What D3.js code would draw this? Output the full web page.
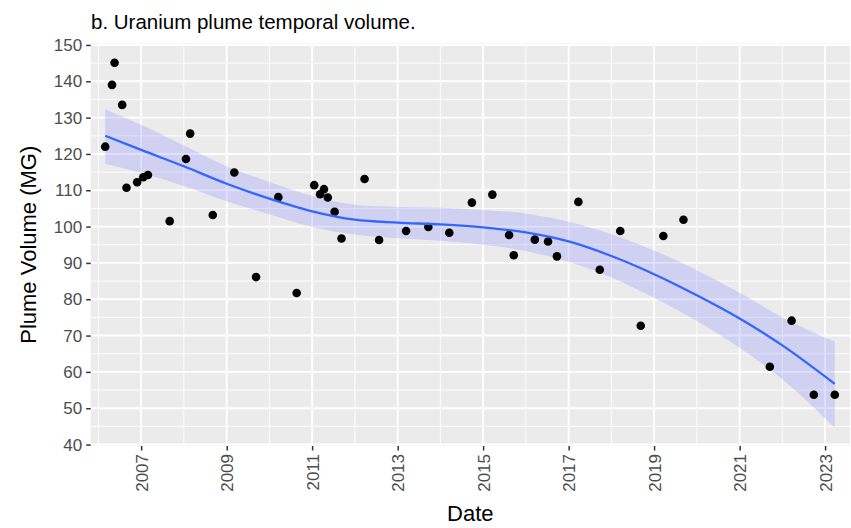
<!DOCTYPE html>
<html>
<head>
<meta charset="utf-8">
<script src="https://cdn.jsdelivr.net/npm/d3@7"></script>
<style>
  body { margin: 0; background: #fff; }
  text { font-family: "Liberation Sans", Arial, sans-serif; }
</style>
</head>
<body>
<svg id="chart" width="851" height="528"></svg>
<script>
// sampling dates and plume volumes (MG)
const sampleDates = [
  "2006-02-28", "2006-04-27", "2006-05-19", "2006-07-23", "2006-08-29", "2006-11-28",
  "2007-01-19", "2007-02-28", "2007-09-02", "2008-01-19", "2008-02-24", "2008-09-04",
  "2009-03-07", "2009-09-09", "2010-03-18", "2010-08-22", "2011-01-19", "2011-03-10",
  "2011-04-12", "2011-05-15", "2011-07-12", "2011-09-09", "2012-03-24", "2012-07-26",
  "2013-03-14", "2013-09-20", "2014-03-18", "2014-09-27", "2015-03-21", "2015-08-11",
  "2015-09-20", "2016-03-18", "2016-07-09", "2016-09-23", "2017-03-25", "2017-09-24",
  "2018-03-18", "2018-09-09", "2019-03-21", "2019-09-09", "2021-09-16", "2022-03-21",
  "2022-09-27", "2023-03-25"
];
const plumeVolume = [
  122.0, 139.0, 145.1, 133.5, 110.7, 112.2,
  113.6, 114.2, 101.5, 118.6, 125.6, 103.2,
  114.9, 86.1, 108.1, 81.7, 111.4, 108.9,
  110.3, 108.0, 104.1, 96.7, 113.1, 96.3,
  98.8, 99.9, 98.3, 106.6, 108.8, 97.7,
  92.1, 96.4, 95.9, 91.8, 106.8, 88.1,
  98.8, 72.7, 97.4, 101.9, 61.4, 74.1,
  53.7, 53.7
];

// loess smooth and its confidence band at knots
const smoothDates = [
  "2006-02-28", "2007-01-01", "2008-01-01", "2009-01-01", "2010-01-01", "2011-01-01",
  "2012-01-01", "2013-01-01", "2014-01-01", "2015-01-01", "2016-01-01", "2017-01-01",
  "2018-01-01", "2019-01-01", "2020-01-01", "2021-01-01", "2022-01-01", "2023-03-25"
];
const smoothFit   = [125.0, 121.1, 116.6, 111.8, 107.7, 104.2, 101.9, 101.1, 100.6, 99.8, 98.4, 95.9, 91.9, 86.9, 81.1, 74.7, 67.3, 56.7];
const smoothUpper = [132.3, 128.0, 122.3, 116.6, 112.3, 108.5, 106.0, 105.4, 105.2, 104.6, 103.6, 101.3, 97.9, 93.4, 88.0, 81.8, 75.0, 68.4];
const smoothLower = [117.3, 114.8, 111.2, 107.0, 103.4, 99.9, 97.8, 96.8, 96.1, 95.0, 93.3, 90.3, 86.0, 80.4, 74.0, 66.6, 58.0, 44.6];

const yTicks = d3.range(40, 151, 10);
const xTickYears = d3.range(2007, 2024, 2);

const parseDate = d3.timeParse("%Y-%m-%d");
const points = sampleDates.map((d, i) => ({ date: parseDate(d), value: plumeVolume[i] }));
const smooth = smoothDates.map((d, i) => ({
  date: parseDate(d), fit: smoothFit[i], lo: smoothLower[i], hi: smoothUpper[i]
}));

const panel = { left: 90.7, right: 850, top: 43.5, bottom: 446 };

const svg = d3.select("#chart");

const x = d3.scaleTime()
  .domain([parseDate("2005-10-27"), parseDate("2023-08-02")])
  .range([panel.left, panel.right]);
const y = d3.scaleLinear()
  .domain([39.6, 150.4])
  .range([panel.bottom, panel.top]);

// panel background
svg.append("rect")
  .attr("x", panel.left).attr("y", panel.top)
  .attr("width", panel.right - panel.left).attr("height", panel.bottom - panel.top)
  .attr("fill", "#EBEBEB");

const grid = svg.append("g");
const minorY = d3.range(45, 150, 10);
const minorYears = d3.range(2006, 2024, 2);

grid.selectAll(".minor-y").data(minorY).join("line")
  .attr("x1", panel.left).attr("x2", panel.right)
  .attr("y1", d => y(d)).attr("y2", d => y(d))
  .attr("stroke", "#fff").attr("stroke-width", 0.9);
grid.selectAll(".minor-x").data(minorYears).join("line")
  .attr("x1", d => x(new Date(d, 0, 1))).attr("x2", d => x(new Date(d, 0, 1)))
  .attr("y1", panel.top).attr("y2", panel.bottom)
  .attr("stroke", "#fff").attr("stroke-width", 0.9);
grid.selectAll(".major-y").data(yTicks).join("line")
  .attr("x1", panel.left).attr("x2", panel.right)
  .attr("y1", d => y(d)).attr("y2", d => y(d))
  .attr("stroke", "#fff").attr("stroke-width", 1.9);
grid.selectAll(".major-x").data(xTickYears).join("line")
  .attr("x1", d => x(new Date(d, 0, 1))).attr("x2", d => x(new Date(d, 0, 1)))
  .attr("y1", panel.top).attr("y2", panel.bottom)
  .attr("stroke", "#fff").attr("stroke-width", 1.9);

// confidence band
const band = d3.area()
  .x(d => x(d.date)).y0(d => y(d.lo)).y1(d => y(d.hi))
  .curve(d3.curveMonotoneX);
svg.append("path").datum(smooth)
  .attr("d", band)
  .attr("fill", "#8080FF").attr("fill-opacity", 0.25);

// points
svg.append("g").selectAll("circle").data(points).join("circle")
  .attr("cx", d => x(d.date)).attr("cy", d => y(d.value))
  .attr("r", 4.3).attr("fill", "#000");

// smooth line
const line = d3.line()
  .x(d => x(d.date)).y(d => y(d.fit))
  .curve(d3.curveMonotoneX);
svg.append("path").datum(smooth)
  .attr("d", line)
  .attr("fill", "none").attr("stroke", "#3366FF").attr("stroke-width", 2.3);

// y axis
const yAxis = d3.axisLeft(y).tickValues(yTicks).tickSize(4.5).tickPadding(4);
const gy = svg.append("g").attr("transform", `translate(${panel.left},0)`).call(yAxis);
gy.select(".domain").remove();
gy.selectAll(".tick line").attr("stroke", "#333").attr("stroke-width", 1.5);
gy.selectAll(".tick text").attr("fill", "#4D4D4D").style("font-size", "17px")
  .style("font-family", "'Liberation Sans', Arial, sans-serif");

// x axis
const xAxis = d3.axisBottom(x)
  .tickValues(xTickYears.map(yr => new Date(yr, 0, 1)))
  .tickFormat(d3.timeFormat("%Y"))
  .tickSize(4.5);
const gx = svg.append("g").attr("transform", `translate(0,${panel.bottom})`).call(xAxis);
gx.select(".domain").remove();
gx.selectAll(".tick line").attr("stroke", "#333").attr("stroke-width", 1.5);
gx.selectAll(".tick text")
  .attr("fill", "#4D4D4D").style("font-size", "17px")
  .style("font-family", "'Liberation Sans', Arial, sans-serif")
  .attr("text-anchor", "end")
  .attr("transform", "translate(0,8) rotate(-90)")
  .attr("x", 0).attr("y", 0).attr("dy", "0.35em");

// titles
svg.append("text")
  .attr("x", 91).attr("y", 29)
  .style("font-size", "20.5px").attr("fill", "#000")
  .text("b. Uranium plume temporal volume.");

svg.append("text")
  .attr("x", (panel.left + panel.right) / 2).attr("y", 521)
  .attr("text-anchor", "middle")
  .style("font-size", "22px").attr("fill", "#000")
  .text("Date");

svg.append("text")
  .attr("transform", `translate(36,${(panel.top + panel.bottom) / 2}) rotate(-90)`)
  .attr("text-anchor", "middle")
  .style("font-size", "22px").attr("fill", "#000")
  .text("Plume Volume (MG)");
</script>
</body>
</html>
